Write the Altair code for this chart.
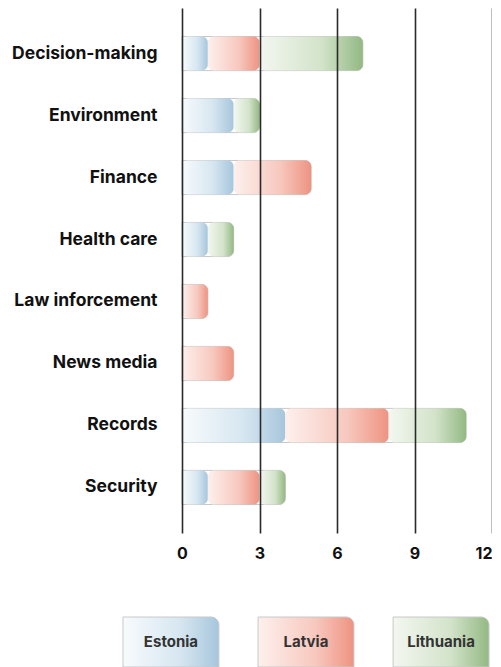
import altair as alt
import pandas as pd

categories = ["Decision-making", "Environment", "Finance", "Health care",
              "Law inforcement", "News media", "Records", "Security"]
countries = ["Estonia", "Latvia", "Lithuania"]
estonia = [1, 2, 2, 1, 0, 0, 4, 1]
latvia = [2, 0, 3, 0, 1, 2, 4, 2]
lithuania = [4, 1, 0, 1, 0, 0, 3, 1]
x_ticks = [0, 3, 6, 9, 12]

series = {"Estonia": estonia, "Latvia": latvia, "Lithuania": lithuania}
rows = []
for ci, c in enumerate(countries):
    for cat, v in zip(categories, series[c]):
        if v > 0:
            rows.append({"category": cat, "country": c, "value": v, "order": ci})
df = pd.DataFrame(rows)

grad_stops = {
    "Estonia": ["#f8fbfd", "#d6e6f0", "#a6c6dc"],
    "Latvia": ["#fdf0ed", "#f7c8be", "#ee9382"],
    "Lithuania": ["#f3f7f0", "#d3e3ca", "#93b983"],
}


def gradient(c):
    s = grad_stops[c]
    return alt.Gradient(
        gradient="linear",
        stops=[alt.GradientStop(color=s[0], offset=0),
               alt.GradientStop(color=s[1], offset=0.6),
               alt.GradientStop(color=s[2], offset=1)],
        x1=0, x2=1, y1=0, y2=0,
    )


FONT = "Inter"

yscale = alt.Scale(paddingInner=0.45, paddingOuter=0.46)
y_enc = alt.Y("category:N", sort=categories, scale=yscale, title=None,
              axis=alt.Axis(domain=False, ticks=False, labelFont=FONT,
                            labelFontSize=17.5, labelFontWeight="bold",
                            labelColor="#111", labelPadding=25,
                            minExtent=174, maxExtent=174))
x_axis = alt.Axis(values=x_ticks, grid=True, gridColor="#2a2a2a",
                  gridWidth=1.6, domain=False, ticks=False, labelFont=FONT,
                  labelFontSize=16, labelFontWeight="bold", labelColor="#111",
                  labelPadding=12, labelFlush=False,
                  labelAlign=alt.ExprRef(expr="datum.value == 12 ? 'right' : 'center'"),
                  zindex=1, title=None)
xscale = alt.Scale(domain=[0, 12], nice=False)

background = alt.Chart(df).mark_bar(
    fill="white", stroke="#c8c8c8", strokeWidth=1, cornerRadiusEnd=6
).encode(
    x=alt.X("sum(value):Q", scale=xscale, axis=x_axis),
    y=y_enc,
)

stacked = alt.Chart(df).transform_stack(
    stack="value", groupby=["category"], as_=["x0", "x1"],
    sort=[alt.SortField("order", "ascending")]
)

layers = [background]
for c in countries:
    layers.append(
        stacked.transform_filter(alt.datum.country == c).mark_bar(
            color=gradient(c), cornerRadiusEnd=6
        ).encode(
            x=alt.X("x0:Q", scale=xscale, axis=x_axis),
            x2="x1:Q",
            y=y_enc,
        )
    )

main = alt.layer(*layers).properties(width=310, height=525)

leg_df = pd.DataFrame({"country": countries})
leg_x = alt.X("country:N", sort=countries, axis=None,
              scale=alt.Scale(range=[-59, 307], paddingInner=0.29, paddingOuter=0))
leg_layers = []
for c in countries:
    leg_layers.append(
        alt.Chart(leg_df).transform_filter(alt.datum.country == c).mark_rect(
            color=gradient(c), stroke="#c8c8c8", strokeWidth=1,
            cornerRadiusTopRight=8
        ).encode(x=leg_x)
    )
leg_layers.append(
    alt.Chart(leg_df).mark_text(font=FONT, fontSize=15, fontWeight="bold",
                                color="#333").encode(x=leg_x, text="country:N")
)
legend = alt.layer(*leg_layers).properties(width=310, height=50)

chart = alt.vconcat(main, legend, spacing=55).properties(
    padding={"left": 0, "top": 0, "right": 0, "bottom": 0},
    background="white",
).configure_view(stroke=None)

chart.save("out.html", embed_options={"renderer": "svg", "actions": False})
